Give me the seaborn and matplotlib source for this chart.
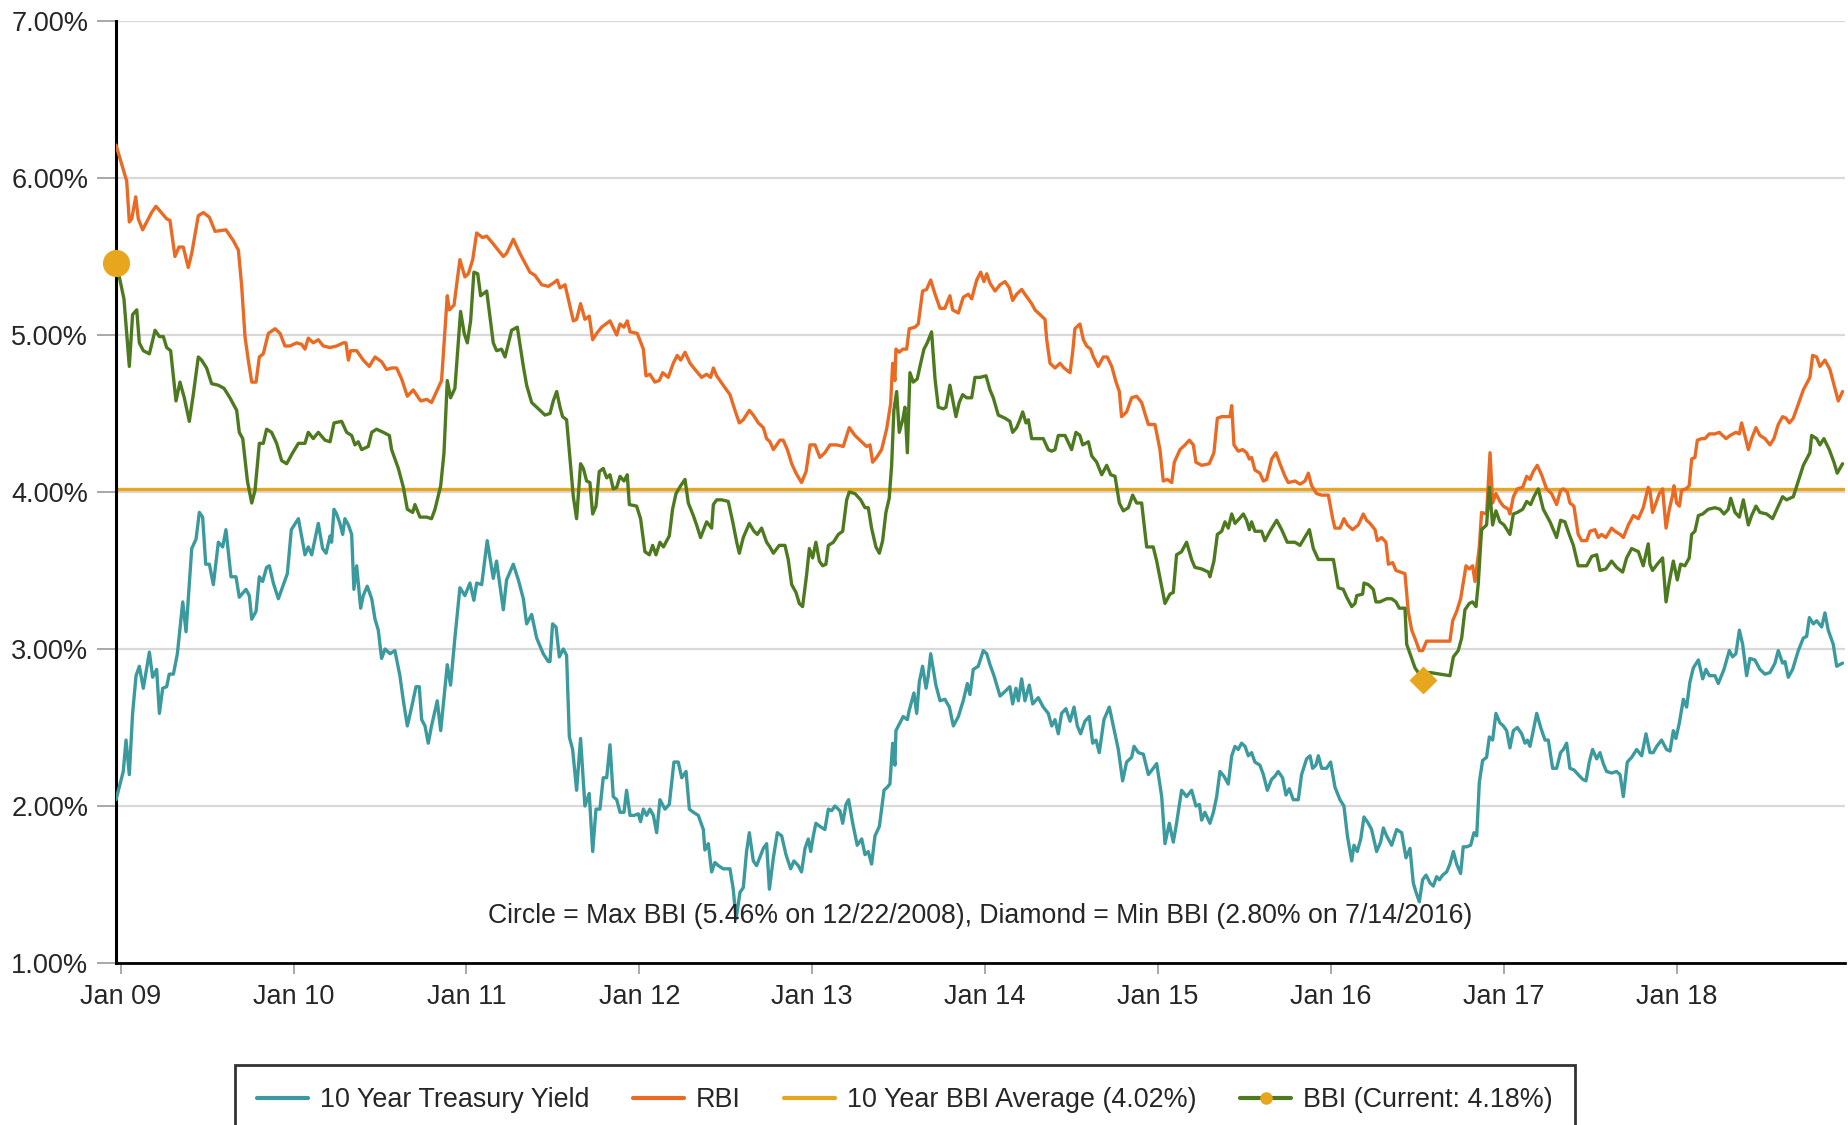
import matplotlib
matplotlib.use("Agg")
import matplotlib.pyplot as plt
from matplotlib.lines import Line2D
import seaborn as sns
import pandas as pd

# weekly readings, (decimal year, percent)
treasury = [
    (2008.973, 2.04), (2009.015, 2.22), (2009.031, 2.42), (2009.050, 2.20), (2009.069, 2.59), (2009.089, 2.83),
    (2009.108, 2.89), (2009.131, 2.75), (2009.166, 2.98), (2009.185, 2.82), (2009.208, 2.87), (2009.224, 2.59),
    (2009.243, 2.75), (2009.266, 2.76), (2009.281, 2.84), (2009.305, 2.84), (2009.328, 2.97), (2009.359, 3.30),
    (2009.378, 3.11), (2009.411, 3.64), (2009.436, 3.70), (2009.455, 3.87), (2009.474, 3.84), (2009.492, 3.54),
    (2009.513, 3.54), (2009.536, 3.41), (2009.565, 3.68), (2009.590, 3.65), (2009.609, 3.76), (2009.638, 3.46),
    (2009.667, 3.46), (2009.686, 3.33), (2009.725, 3.38), (2009.744, 3.34), (2009.758, 3.19), (2009.783, 3.24),
    (2009.802, 3.46), (2009.821, 3.43), (2009.844, 3.52), (2009.860, 3.53), (2009.883, 3.42), (2009.912, 3.32),
    (2009.941, 3.41), (2009.964, 3.48), (2009.987, 3.76), (2010.028, 3.83), (2010.066, 3.60), (2010.085, 3.65),
    (2010.105, 3.60), (2010.143, 3.80), (2010.168, 3.64), (2010.188, 3.61), (2010.211, 3.72), (2010.220, 3.68),
    (2010.234, 3.89), (2010.249, 3.86), (2010.268, 3.80), (2010.284, 3.73), (2010.297, 3.83), (2010.317, 3.79),
    (2010.336, 3.73), (2010.349, 3.38), (2010.365, 3.53), (2010.388, 3.26), (2010.403, 3.34), (2010.426, 3.40),
    (2010.452, 3.32), (2010.471, 3.19), (2010.490, 3.12), (2010.509, 2.94), (2010.529, 3.00), (2010.558, 2.97),
    (2010.586, 2.99), (2010.615, 2.83), (2010.635, 2.67), (2010.658, 2.51), (2010.683, 2.63), (2010.708, 2.76),
    (2010.727, 2.76), (2010.741, 2.55), (2010.760, 2.51), (2010.779, 2.40), (2010.798, 2.51), (2010.831, 2.67),
    (2010.851, 2.48), (2010.889, 2.90), (2010.908, 2.77), (2010.933, 3.07), (2010.962, 3.39), (2010.991, 3.34),
    (2011.020, 3.42), (2011.043, 3.31), (2011.059, 3.42), (2011.088, 3.41), (2011.120, 3.69), (2011.155, 3.45),
    (2011.174, 3.56), (2011.213, 3.25), (2011.232, 3.44), (2011.271, 3.54), (2011.300, 3.44), (2011.329, 3.32),
    (2011.348, 3.16), (2011.377, 3.22), (2011.406, 3.07), (2011.444, 2.97), (2011.473, 2.92), (2011.483, 2.92),
    (2011.498, 3.16), (2011.518, 3.14), (2011.537, 2.95), (2011.560, 3.00), (2011.579, 2.96), (2011.595, 2.44),
    (2011.614, 2.36), (2011.637, 2.10), (2011.660, 2.43), (2011.685, 2.00), (2011.710, 2.08), (2011.730, 1.71),
    (2011.749, 1.98), (2011.772, 1.98), (2011.791, 2.18), (2011.811, 2.18), (2011.830, 2.39), (2011.849, 2.06),
    (2011.869, 2.04), (2011.888, 1.96), (2011.911, 1.96), (2011.926, 2.10), (2011.946, 1.94), (2011.969, 1.94),
    (2011.994, 1.95), (2012.007, 1.90), (2012.023, 1.98), (2012.042, 1.94), (2012.061, 1.98), (2012.081, 1.94),
    (2012.100, 1.83), (2012.119, 2.04), (2012.148, 1.98), (2012.173, 2.01), (2012.200, 2.28), (2012.225, 2.28),
    (2012.245, 2.18), (2012.270, 2.22), (2012.289, 1.98), (2012.312, 1.96), (2012.341, 1.94), (2012.370, 1.85),
    (2012.379, 1.72), (2012.399, 1.76), (2012.418, 1.58), (2012.437, 1.64), (2012.457, 1.62), (2012.485, 1.60),
    (2012.524, 1.60), (2012.543, 1.47), (2012.559, 1.28), (2012.582, 1.45), (2012.601, 1.48), (2012.620, 1.71),
    (2012.636, 1.83), (2012.659, 1.65), (2012.678, 1.62), (2012.717, 1.73), (2012.736, 1.76), (2012.752, 1.47),
    (2012.775, 1.67), (2012.798, 1.83), (2012.823, 1.81), (2012.848, 1.69), (2012.875, 1.60), (2012.894, 1.65),
    (2012.919, 1.62), (2012.938, 1.58), (2012.958, 1.73), (2012.977, 1.79), (2012.991, 1.71), (2013.006, 1.81),
    (2013.021, 1.89), (2013.044, 1.87), (2013.073, 1.85), (2013.093, 1.98), (2013.112, 1.97), (2013.131, 2.00),
    (2013.160, 1.97), (2013.176, 1.89), (2013.195, 2.01), (2013.210, 2.04), (2013.234, 1.89), (2013.260, 1.75),
    (2013.286, 1.79), (2013.305, 1.69), (2013.324, 1.71), (2013.343, 1.63), (2013.363, 1.81), (2013.388, 1.87),
    (2013.415, 2.10), (2013.434, 2.12), (2013.449, 2.14), (2013.465, 2.40), (2013.478, 2.26), (2013.484, 2.48),
    (2013.507, 2.53), (2013.526, 2.57), (2013.550, 2.55), (2013.561, 2.61), (2013.588, 2.72), (2013.604, 2.59),
    (2013.619, 2.79), (2013.638, 2.89), (2013.658, 2.75), (2013.671, 2.83), (2013.685, 2.97), (2013.715, 2.77),
    (2013.739, 2.67), (2013.767, 2.68), (2013.793, 2.63), (2013.816, 2.51), (2013.845, 2.57), (2013.873, 2.67),
    (2013.897, 2.78), (2013.912, 2.71), (2013.931, 2.87), (2013.960, 2.89), (2013.989, 2.99), (2014.009, 2.97),
    (2014.028, 2.90), (2014.051, 2.83), (2014.086, 2.70), (2014.115, 2.73), (2014.143, 2.76), (2014.159, 2.65),
    (2014.178, 2.75), (2014.192, 2.67), (2014.211, 2.81), (2014.230, 2.67), (2014.255, 2.77), (2014.275, 2.65),
    (2014.307, 2.69), (2014.336, 2.63), (2014.365, 2.59), (2014.385, 2.51), (2014.404, 2.55), (2014.423, 2.46),
    (2014.442, 2.59), (2014.467, 2.62), (2014.491, 2.54), (2014.514, 2.63), (2014.533, 2.51), (2014.552, 2.46),
    (2014.577, 2.54), (2014.602, 2.57), (2014.622, 2.40), (2014.641, 2.42), (2014.660, 2.34), (2014.687, 2.55),
    (2014.718, 2.63), (2014.741, 2.51), (2014.770, 2.36), (2014.795, 2.16), (2014.818, 2.28), (2014.847, 2.31),
    (2014.861, 2.38), (2014.886, 2.34), (2014.915, 2.33), (2014.944, 2.20), (2014.972, 2.24), (2014.992, 2.27),
    (2015.021, 2.06), (2015.040, 1.76), (2015.065, 1.89), (2015.088, 1.77), (2015.107, 1.89), (2015.136, 2.10),
    (2015.165, 2.06), (2015.194, 2.10), (2015.219, 2.00), (2015.239, 2.01), (2015.252, 1.91), (2015.271, 1.96),
    (2015.300, 1.89), (2015.320, 1.96), (2015.339, 2.06), (2015.358, 2.22), (2015.381, 2.19), (2015.406, 2.14),
    (2015.426, 2.32), (2015.445, 2.38), (2015.464, 2.36), (2015.483, 2.40), (2015.503, 2.38), (2015.522, 2.32),
    (2015.541, 2.34), (2015.560, 2.28), (2015.589, 2.26), (2015.609, 2.20), (2015.632, 2.10), (2015.657, 2.17),
    (2015.676, 2.19), (2015.695, 2.22), (2015.720, 2.18), (2015.740, 2.07), (2015.759, 2.11), (2015.782, 2.04),
    (2015.811, 2.04), (2015.830, 2.20), (2015.859, 2.30), (2015.879, 2.32), (2015.894, 2.24), (2015.913, 2.26),
    (2015.927, 2.32), (2015.946, 2.24), (2015.975, 2.24), (2015.998, 2.28), (2016.023, 2.12), (2016.052, 2.04),
    (2016.075, 2.00), (2016.095, 1.81), (2016.120, 1.65), (2016.133, 1.75), (2016.152, 1.71), (2016.172, 1.79),
    (2016.191, 1.93), (2016.216, 1.89), (2016.235, 1.85), (2016.264, 1.71), (2016.287, 1.77), (2016.303, 1.86),
    (2016.322, 1.81), (2016.351, 1.75), (2016.380, 1.85), (2016.409, 1.83), (2016.434, 1.67), (2016.457, 1.73),
    (2016.476, 1.51), (2016.492, 1.45), (2016.511, 1.39), (2016.530, 1.53), (2016.550, 1.56), (2016.573, 1.51),
    (2016.592, 1.49), (2016.611, 1.55), (2016.627, 1.53), (2016.646, 1.56), (2016.669, 1.58), (2016.688, 1.63),
    (2016.708, 1.71), (2016.727, 1.63), (2016.750, 1.57), (2016.765, 1.74), (2016.785, 1.74), (2016.808, 1.75),
    (2016.827, 1.83), (2016.843, 1.81), (2016.858, 2.15), (2016.877, 2.29), (2016.900, 2.31), (2016.916, 2.44),
    (2016.935, 2.42), (2016.954, 2.59), (2016.977, 2.53), (2016.997, 2.51), (2017.016, 2.48), (2017.035, 2.37),
    (2017.055, 2.48), (2017.078, 2.50), (2017.103, 2.46), (2017.122, 2.40), (2017.136, 2.42), (2017.151, 2.38),
    (2017.170, 2.48), (2017.190, 2.59), (2017.213, 2.50), (2017.238, 2.42), (2017.257, 2.42), (2017.282, 2.24),
    (2017.305, 2.24), (2017.328, 2.34), (2017.344, 2.36), (2017.363, 2.40), (2017.382, 2.24), (2017.405, 2.23),
    (2017.430, 2.20), (2017.456, 2.17), (2017.475, 2.16), (2017.494, 2.28), (2017.513, 2.36), (2017.537, 2.30),
    (2017.556, 2.34), (2017.575, 2.27), (2017.594, 2.22), (2017.623, 2.21), (2017.652, 2.22), (2017.672, 2.20),
    (2017.691, 2.06), (2017.714, 2.28), (2017.739, 2.31), (2017.768, 2.36), (2017.797, 2.32), (2017.822, 2.46),
    (2017.845, 2.34), (2017.864, 2.34), (2017.884, 2.38), (2017.912, 2.42), (2017.941, 2.36), (2017.961, 2.35),
    (2017.980, 2.48), (2017.995, 2.43), (2018.015, 2.53), (2018.038, 2.68), (2018.057, 2.63), (2018.076, 2.79),
    (2018.096, 2.88), (2018.125, 2.93), (2018.150, 2.81), (2018.169, 2.87), (2018.188, 2.83), (2018.221, 2.83),
    (2018.240, 2.78), (2018.273, 2.87), (2018.304, 2.99), (2018.323, 2.95), (2018.342, 2.97), (2018.362, 3.12),
    (2018.381, 3.03), (2018.404, 2.83), (2018.423, 2.94), (2018.452, 2.93), (2018.481, 2.87), (2018.510, 2.84),
    (2018.539, 2.85), (2018.568, 2.91), (2018.587, 2.99), (2018.612, 2.91), (2018.626, 2.92), (2018.645, 2.82),
    (2018.670, 2.87), (2018.703, 2.99), (2018.732, 3.07), (2018.751, 3.08), (2018.767, 3.20), (2018.790, 3.16),
    (2018.809, 3.18), (2018.838, 3.14), (2018.857, 3.23), (2018.876, 3.12), (2018.905, 3.03), (2018.925, 2.89),
    (2018.959, 2.91),
]

rbi = [
    (2008.973, 6.21), (2009.035, 5.98), (2009.050, 5.72), (2009.064, 5.74), (2009.087, 5.88), (2009.102, 5.74),
    (2009.127, 5.67), (2009.179, 5.78), (2009.204, 5.82), (2009.266, 5.74), (2009.285, 5.73), (2009.314, 5.50),
    (2009.337, 5.56), (2009.362, 5.56), (2009.391, 5.43), (2009.411, 5.52), (2009.449, 5.76), (2009.478, 5.78),
    (2009.513, 5.75), (2009.546, 5.66), (2009.609, 5.67), (2009.652, 5.60), (2009.681, 5.54), (2009.700, 5.31),
    (2009.719, 4.99), (2009.738, 4.84), (2009.758, 4.70), (2009.783, 4.70), (2009.802, 4.86), (2009.825, 4.88),
    (2009.854, 5.01), (2009.893, 5.04), (2009.922, 5.01), (2009.950, 4.93), (2009.979, 4.93), (2010.018, 4.95),
    (2010.047, 4.94), (2010.066, 4.91), (2010.085, 4.98), (2010.114, 4.95), (2010.143, 4.97), (2010.172, 4.93),
    (2010.211, 4.92), (2010.249, 4.93), (2010.288, 4.95), (2010.303, 4.95), (2010.317, 4.84), (2010.330, 4.90),
    (2010.365, 4.90), (2010.403, 4.84), (2010.438, 4.80), (2010.471, 4.86), (2010.509, 4.83), (2010.538, 4.78),
    (2010.567, 4.79), (2010.596, 4.79), (2010.625, 4.72), (2010.658, 4.61), (2010.692, 4.65), (2010.735, 4.58),
    (2010.770, 4.59), (2010.798, 4.57), (2010.827, 4.64), (2010.856, 4.71), (2010.889, 5.25), (2010.901, 5.16),
    (2010.928, 5.19), (2010.962, 5.48), (2010.991, 5.37), (2011.011, 5.39), (2011.036, 5.48), (2011.059, 5.65),
    (2011.093, 5.62), (2011.117, 5.63), (2011.155, 5.58), (2011.213, 5.50), (2011.232, 5.52), (2011.271, 5.61),
    (2011.309, 5.52), (2011.367, 5.40), (2011.396, 5.38), (2011.435, 5.32), (2011.473, 5.31), (2011.502, 5.33),
    (2011.525, 5.35), (2011.541, 5.30), (2011.570, 5.32), (2011.589, 5.23), (2011.618, 5.09), (2011.637, 5.10),
    (2011.660, 5.20), (2011.685, 5.10), (2011.710, 5.12), (2011.730, 4.97), (2011.753, 5.01), (2011.782, 5.05),
    (2011.830, 5.09), (2011.869, 5.00), (2011.888, 5.07), (2011.911, 5.05), (2011.930, 5.09), (2011.946, 5.02),
    (2011.988, 5.01), (2012.023, 4.91), (2012.038, 4.74), (2012.061, 4.75), (2012.090, 4.70), (2012.115, 4.71),
    (2012.135, 4.76), (2012.167, 4.73), (2012.196, 4.82), (2012.219, 4.87), (2012.239, 4.84), (2012.264, 4.89),
    (2012.293, 4.82), (2012.322, 4.78), (2012.360, 4.73), (2012.389, 4.75), (2012.412, 4.73), (2012.428, 4.79),
    (2012.447, 4.74), (2012.485, 4.68), (2012.524, 4.62), (2012.553, 4.52), (2012.578, 4.44), (2012.601, 4.46),
    (2012.636, 4.52), (2012.659, 4.49), (2012.688, 4.44), (2012.717, 4.41), (2012.736, 4.34), (2012.755, 4.32),
    (2012.775, 4.27), (2012.794, 4.30), (2012.813, 4.33), (2012.832, 4.33), (2012.856, 4.27), (2012.881, 4.18),
    (2012.906, 4.12), (2012.938, 4.06), (2012.964, 4.13), (2012.987, 4.30), (2013.016, 4.30), (2013.044, 4.22),
    (2013.073, 4.25), (2013.102, 4.30), (2013.141, 4.30), (2013.179, 4.29), (2013.214, 4.41), (2013.247, 4.36),
    (2013.276, 4.33), (2013.314, 4.29), (2013.334, 4.30), (2013.349, 4.19), (2013.372, 4.22), (2013.401, 4.27),
    (2013.430, 4.40), (2013.453, 4.56), (2013.465, 4.82), (2013.478, 4.71), (2013.484, 4.91), (2013.503, 4.89),
    (2013.523, 4.91), (2013.546, 4.91), (2013.561, 5.04), (2013.594, 5.05), (2013.613, 5.07), (2013.638, 5.28),
    (2013.661, 5.29), (2013.685, 5.35), (2013.710, 5.26), (2013.739, 5.17), (2013.767, 5.17), (2013.796, 5.25),
    (2013.812, 5.16), (2013.845, 5.14), (2013.873, 5.24), (2013.902, 5.26), (2013.922, 5.23), (2013.951, 5.35),
    (2013.974, 5.40), (2013.993, 5.34), (2014.009, 5.39), (2014.028, 5.33), (2014.057, 5.28), (2014.086, 5.32),
    (2014.115, 5.34), (2014.140, 5.30), (2014.159, 5.22), (2014.182, 5.26), (2014.211, 5.29), (2014.236, 5.25),
    (2014.269, 5.20), (2014.288, 5.16), (2014.317, 5.13), (2014.346, 5.10), (2014.356, 4.97), (2014.375, 4.82),
    (2014.404, 4.79), (2014.433, 4.82), (2014.456, 4.79), (2014.491, 4.76), (2014.506, 4.89), (2014.519, 5.04),
    (2014.548, 5.07), (2014.568, 4.97), (2014.587, 4.93), (2014.610, 4.91), (2014.626, 4.86), (2014.654, 4.80),
    (2014.683, 4.86), (2014.706, 4.86), (2014.732, 4.80), (2014.757, 4.70), (2014.776, 4.64), (2014.789, 4.48),
    (2014.818, 4.51), (2014.847, 4.60), (2014.876, 4.61), (2014.905, 4.57), (2014.924, 4.50), (2014.944, 4.43),
    (2014.982, 4.43), (2015.011, 4.27), (2015.030, 4.07), (2015.054, 4.08), (2015.079, 4.06), (2015.094, 4.19),
    (2015.127, 4.27), (2015.156, 4.30), (2015.181, 4.33), (2015.204, 4.30), (2015.219, 4.19), (2015.252, 4.17),
    (2015.296, 4.18), (2015.323, 4.25), (2015.343, 4.47), (2015.368, 4.48), (2015.397, 4.48), (2015.416, 4.48),
    (2015.426, 4.55), (2015.439, 4.30), (2015.464, 4.26), (2015.489, 4.27), (2015.512, 4.25), (2015.528, 4.21),
    (2015.541, 4.22), (2015.560, 4.14), (2015.589, 4.12), (2015.609, 4.07), (2015.628, 4.08), (2015.657, 4.21),
    (2015.682, 4.25), (2015.705, 4.18), (2015.734, 4.10), (2015.753, 4.06), (2015.792, 4.07), (2015.821, 4.05),
    (2015.850, 4.07), (2015.869, 4.12), (2015.888, 4.04), (2015.917, 3.99), (2015.946, 3.98), (2015.985, 3.98),
    (2016.010, 3.83), (2016.023, 3.77), (2016.052, 3.77), (2016.075, 3.83), (2016.095, 3.79), (2016.125, 3.76),
    (2016.158, 3.79), (2016.187, 3.86), (2016.206, 3.82), (2016.226, 3.80), (2016.255, 3.76), (2016.268, 3.69),
    (2016.293, 3.71), (2016.318, 3.68), (2016.332, 3.54), (2016.357, 3.55), (2016.376, 3.50), (2016.403, 3.49),
    (2016.428, 3.48), (2016.447, 3.24), (2016.467, 3.12), (2016.492, 3.05), (2016.511, 2.99), (2016.530, 2.99),
    (2016.553, 3.05), (2016.573, 3.05), (2016.688, 3.05), (2016.704, 3.18), (2016.727, 3.24), (2016.750, 3.32),
    (2016.765, 3.42), (2016.781, 3.53), (2016.800, 3.51), (2016.819, 3.53), (2016.833, 3.43), (2016.858, 3.65),
    (2016.871, 3.87), (2016.900, 3.86), (2016.920, 4.25), (2016.935, 3.93), (2016.954, 3.99), (2016.977, 3.94),
    (2016.997, 3.91), (2017.026, 3.89), (2017.035, 3.86), (2017.055, 3.97), (2017.078, 4.02), (2017.109, 4.03),
    (2017.132, 4.10), (2017.151, 4.08), (2017.170, 4.13), (2017.193, 4.17), (2017.218, 4.11), (2017.247, 4.02),
    (2017.276, 3.99), (2017.305, 3.92), (2017.328, 4.01), (2017.344, 4.02), (2017.367, 4.00), (2017.382, 3.93),
    (2017.405, 3.91), (2017.430, 3.73), (2017.450, 3.69), (2017.479, 3.69), (2017.498, 3.75), (2017.527, 3.76),
    (2017.546, 3.71), (2017.565, 3.73), (2017.590, 3.71), (2017.623, 3.77), (2017.643, 3.75), (2017.672, 3.73),
    (2017.691, 3.71), (2017.720, 3.79), (2017.749, 3.85), (2017.778, 3.83), (2017.806, 3.90), (2017.835, 4.03),
    (2017.845, 4.01), (2017.860, 3.87), (2017.880, 3.93), (2017.899, 3.99), (2017.918, 4.02), (2017.938, 3.77),
    (2017.957, 3.89), (2017.976, 3.98), (2017.984, 4.04), (2017.999, 3.93), (2018.015, 3.91), (2018.028, 4.01),
    (2018.053, 4.02), (2018.072, 4.04), (2018.086, 4.21), (2018.105, 4.22), (2018.119, 4.33), (2018.144, 4.34),
    (2018.163, 4.34), (2018.188, 4.37), (2018.221, 4.37), (2018.246, 4.38), (2018.265, 4.36), (2018.285, 4.34),
    (2018.308, 4.36), (2018.342, 4.38), (2018.362, 4.37), (2018.375, 4.44), (2018.394, 4.36), (2018.414, 4.27),
    (2018.433, 4.34), (2018.458, 4.41), (2018.481, 4.36), (2018.510, 4.34), (2018.539, 4.30), (2018.562, 4.34),
    (2018.587, 4.43), (2018.612, 4.48), (2018.632, 4.47), (2018.651, 4.44), (2018.674, 4.47), (2018.703, 4.56),
    (2018.732, 4.65), (2018.770, 4.73), (2018.786, 4.87), (2018.809, 4.86), (2018.828, 4.80), (2018.857, 4.84),
    (2018.886, 4.78), (2018.915, 4.66), (2018.934, 4.58), (2018.959, 4.64),
]

bbi = [
    (2008.973, 5.46), (2008.996, 5.35), (2009.019, 5.23), (2009.050, 4.80), (2009.069, 5.13), (2009.093, 5.16),
    (2009.108, 4.95), (2009.131, 4.90), (2009.166, 4.88), (2009.199, 5.03), (2009.224, 4.99), (2009.247, 4.99),
    (2009.266, 4.92), (2009.289, 4.90), (2009.320, 4.58), (2009.343, 4.70), (2009.368, 4.60), (2009.397, 4.45),
    (2009.420, 4.62), (2009.449, 4.86), (2009.468, 4.84), (2009.497, 4.79), (2009.526, 4.69), (2009.565, 4.68),
    (2009.598, 4.66), (2009.632, 4.60), (2009.671, 4.52), (2009.686, 4.38), (2009.706, 4.34), (2009.733, 4.07),
    (2009.758, 3.93), (2009.777, 4.01), (2009.802, 4.31), (2009.825, 4.31), (2009.844, 4.40), (2009.873, 4.38),
    (2009.902, 4.31), (2009.931, 4.20), (2009.960, 4.18), (2009.995, 4.25), (2010.028, 4.31), (2010.066, 4.31),
    (2010.085, 4.38), (2010.114, 4.34), (2010.143, 4.38), (2010.182, 4.33), (2010.211, 4.32), (2010.234, 4.44),
    (2010.278, 4.45), (2010.307, 4.38), (2010.336, 4.36), (2010.355, 4.30), (2010.374, 4.32), (2010.394, 4.27),
    (2010.432, 4.29), (2010.452, 4.38), (2010.480, 4.40), (2010.519, 4.38), (2010.554, 4.36), (2010.567, 4.27),
    (2010.606, 4.15), (2010.635, 4.03), (2010.658, 3.89), (2010.689, 3.87), (2010.702, 3.92), (2010.731, 3.84),
    (2010.770, 3.84), (2010.798, 3.83), (2010.818, 3.89), (2010.851, 4.04), (2010.870, 4.25), (2010.889, 4.71),
    (2010.908, 4.60), (2010.933, 4.66), (2010.966, 5.15), (2010.987, 5.01), (2011.005, 4.95), (2011.024, 5.09),
    (2011.043, 5.40), (2011.065, 5.39), (2011.082, 5.25), (2011.117, 5.28), (2011.155, 4.95), (2011.174, 4.90),
    (2011.203, 4.91), (2011.223, 4.86), (2011.261, 5.03), (2011.294, 5.05), (2011.329, 4.80), (2011.348, 4.68),
    (2011.377, 4.57), (2011.416, 4.53), (2011.454, 4.49), (2011.483, 4.50), (2011.502, 4.58), (2011.522, 4.64),
    (2011.541, 4.54), (2011.556, 4.48), (2011.579, 4.46), (2011.599, 4.21), (2011.618, 3.97), (2011.637, 3.83),
    (2011.660, 4.18), (2011.676, 4.15), (2011.695, 4.07), (2011.714, 4.06), (2011.730, 3.86), (2011.749, 3.91),
    (2011.768, 4.13), (2011.791, 4.15), (2011.811, 4.09), (2011.830, 4.11), (2011.849, 4.02), (2011.869, 4.03),
    (2011.888, 4.10), (2011.911, 4.07), (2011.930, 4.11), (2011.942, 3.92), (2011.984, 3.91), (2012.007, 3.83),
    (2012.032, 3.62), (2012.058, 3.60), (2012.077, 3.66), (2012.096, 3.60), (2012.119, 3.68), (2012.139, 3.65),
    (2012.173, 3.72), (2012.192, 3.89), (2012.212, 3.99), (2012.239, 4.04), (2012.264, 4.08), (2012.283, 3.93),
    (2012.312, 3.85), (2012.331, 3.79), (2012.354, 3.71), (2012.389, 3.81), (2012.418, 3.77), (2012.428, 3.92),
    (2012.447, 3.95), (2012.476, 3.95), (2012.514, 3.94), (2012.540, 3.81), (2012.563, 3.68), (2012.578, 3.61),
    (2012.601, 3.71), (2012.636, 3.80), (2012.663, 3.75), (2012.682, 3.73), (2012.707, 3.77), (2012.736, 3.68),
    (2012.755, 3.65), (2012.775, 3.61), (2012.809, 3.66), (2012.842, 3.66), (2012.861, 3.57), (2012.881, 3.41),
    (2012.906, 3.36), (2012.925, 3.29), (2012.944, 3.27), (2012.967, 3.47), (2012.983, 3.64), (2013.002, 3.58),
    (2013.021, 3.68), (2013.041, 3.56), (2013.060, 3.53), (2013.079, 3.54), (2013.093, 3.66), (2013.122, 3.68),
    (2013.151, 3.73), (2013.176, 3.75), (2013.199, 3.95), (2013.214, 4.00), (2013.247, 3.99), (2013.280, 3.95),
    (2013.305, 3.90), (2013.324, 3.90), (2013.343, 3.77), (2013.368, 3.65), (2013.388, 3.61), (2013.407, 3.69),
    (2013.426, 3.87), (2013.445, 3.96), (2013.459, 4.17), (2013.472, 4.52), (2013.488, 4.64), (2013.503, 4.38),
    (2013.523, 4.46), (2013.536, 4.54), (2013.550, 4.25), (2013.565, 4.76), (2013.584, 4.70), (2013.607, 4.72),
    (2013.627, 4.82), (2013.646, 4.91), (2013.665, 4.95), (2013.690, 5.02), (2013.710, 4.72), (2013.729, 4.54),
    (2013.758, 4.53), (2013.773, 4.54), (2013.796, 4.68), (2013.812, 4.59), (2013.831, 4.48), (2013.850, 4.57),
    (2013.870, 4.62), (2013.893, 4.60), (2013.922, 4.60), (2013.941, 4.73), (2013.970, 4.73), (2014.005, 4.74),
    (2014.028, 4.65), (2014.047, 4.60), (2014.076, 4.49), (2014.115, 4.47), (2014.143, 4.45), (2014.159, 4.38),
    (2014.182, 4.41), (2014.201, 4.46), (2014.217, 4.51), (2014.236, 4.44), (2014.250, 4.46), (2014.269, 4.34),
    (2014.298, 4.34), (2014.336, 4.34), (2014.365, 4.27), (2014.385, 4.26), (2014.404, 4.27), (2014.423, 4.36),
    (2014.462, 4.36), (2014.500, 4.27), (2014.525, 4.38), (2014.548, 4.36), (2014.564, 4.30), (2014.597, 4.32),
    (2014.616, 4.23), (2014.645, 4.19), (2014.674, 4.11), (2014.703, 4.17), (2014.726, 4.11), (2014.751, 4.10),
    (2014.776, 3.93), (2014.799, 3.88), (2014.828, 3.90), (2014.853, 3.98), (2014.876, 3.93), (2014.905, 3.93),
    (2014.934, 3.65), (2014.972, 3.65), (2014.992, 3.56), (2015.015, 3.43), (2015.040, 3.29), (2015.069, 3.35),
    (2015.088, 3.36), (2015.107, 3.60), (2015.136, 3.62), (2015.165, 3.68), (2015.194, 3.57), (2015.213, 3.52),
    (2015.252, 3.51), (2015.291, 3.49), (2015.300, 3.46), (2015.323, 3.56), (2015.343, 3.73), (2015.368, 3.75),
    (2015.387, 3.81), (2015.406, 3.77), (2015.426, 3.86), (2015.445, 3.80), (2015.470, 3.83), (2015.493, 3.86),
    (2015.512, 3.82), (2015.528, 3.76), (2015.541, 3.81), (2015.560, 3.75), (2015.599, 3.75), (2015.618, 3.69),
    (2015.647, 3.75), (2015.686, 3.82), (2015.715, 3.76), (2015.747, 3.68), (2015.792, 3.68), (2015.821, 3.66),
    (2015.859, 3.73), (2015.875, 3.76), (2015.898, 3.64), (2015.927, 3.57), (2015.965, 3.57), (2016.014, 3.57),
    (2016.042, 3.39), (2016.071, 3.38), (2016.091, 3.33), (2016.120, 3.27), (2016.139, 3.29), (2016.149, 3.34),
    (2016.183, 3.35), (2016.191, 3.42), (2016.216, 3.41), (2016.245, 3.38), (2016.260, 3.30), (2016.283, 3.30),
    (2016.303, 3.31), (2016.322, 3.32), (2016.351, 3.32), (2016.376, 3.30), (2016.395, 3.26), (2016.428, 3.26),
    (2016.438, 3.03), (2016.457, 2.97), (2016.486, 2.88), (2016.511, 2.84), (2016.534, 2.80), (2016.563, 2.85),
    (2016.573, 2.85), (2016.688, 2.83), (2016.708, 2.95), (2016.736, 2.99), (2016.756, 3.07), (2016.775, 3.25),
    (2016.800, 3.29), (2016.819, 3.30), (2016.839, 3.27), (2016.852, 3.42), (2016.871, 3.76), (2016.900, 3.79),
    (2016.916, 4.03), (2016.935, 3.79), (2016.954, 3.88), (2016.977, 3.81), (2017.001, 3.79), (2017.035, 3.73),
    (2017.055, 3.86), (2017.078, 3.87), (2017.109, 3.89), (2017.132, 3.94), (2017.155, 3.92), (2017.174, 3.97),
    (2017.199, 4.02), (2017.228, 3.89), (2017.267, 3.81), (2017.305, 3.71), (2017.328, 3.82), (2017.353, 3.81),
    (2017.378, 3.73), (2017.402, 3.66), (2017.430, 3.53), (2017.479, 3.53), (2017.508, 3.59), (2017.537, 3.60),
    (2017.556, 3.50), (2017.590, 3.51), (2017.623, 3.56), (2017.652, 3.52), (2017.687, 3.49), (2017.710, 3.58),
    (2017.739, 3.64), (2017.778, 3.62), (2017.806, 3.53), (2017.835, 3.67), (2017.845, 3.54), (2017.860, 3.50),
    (2017.887, 3.54), (2017.918, 3.58), (2017.938, 3.30), (2017.957, 3.43), (2017.980, 3.56), (2018.003, 3.44),
    (2018.022, 3.54), (2018.047, 3.53), (2018.072, 3.58), (2018.086, 3.73), (2018.105, 3.75), (2018.125, 3.85),
    (2018.150, 3.86), (2018.182, 3.89), (2018.221, 3.90), (2018.250, 3.89), (2018.273, 3.86), (2018.298, 3.89),
    (2018.312, 3.96), (2018.337, 3.87), (2018.362, 3.84), (2018.385, 3.95), (2018.414, 3.79), (2018.433, 3.85),
    (2018.458, 3.91), (2018.481, 3.87), (2018.520, 3.86), (2018.554, 3.83), (2018.587, 3.91), (2018.612, 3.97),
    (2018.635, 3.95), (2018.674, 3.97), (2018.703, 4.07), (2018.732, 4.17), (2018.770, 4.25), (2018.780, 4.36),
    (2018.809, 4.34), (2018.828, 4.30), (2018.851, 4.34), (2018.882, 4.27), (2018.909, 4.19), (2018.928, 4.12),
    (2018.959, 4.18),
]

bbi_avg = 4.02
bbi_max = (2008.973, 5.46)   # 12/22/2008
bbi_min = (2016.534, 2.80)   # 7/14/2016
years = list(range(2009, 2019))
tick_labels = ["Jan %02d" % (y % 100) for y in years]

c_tsy = "#3A9A9E"
c_rbi = "#EA6A24"
c_avg = "#E8A51E"
c_bbi = "#4D7A1F"


def to_df(pairs, name):
    t, v = zip(*pairs)
    return pd.DataFrame({"year": t, "value": v, "series": name})


sns.set_style("white")
plt.rcParams["font.family"] = ["Liberation Sans", "DejaVu Sans"]

fig = plt.figure(figsize=(18.48, 11.25), dpi=100)
ax = fig.add_axes([116 / 1848, 1 - 963 / 1125, (1845 - 116) / 1848, (963 - 21) / 1125])

ax.axhline(bbi_avg, color=c_avg, lw=2.4, zorder=2)
for pairs, name, col in [(treasury, "10 Year Treasury Yield", c_tsy), (rbi, "RBI", c_rbi), (bbi, "BBI", c_bbi)]:
    sns.lineplot(data=to_df(pairs, name), x="year", y="value", ax=ax, color=col,
                 lw=2.4, estimator=None, sort=False, legend=False, zorder=3)

ax.plot(*bbi_max, "o", ms=18.5, color=c_avg, clip_on=False, zorder=6)
ax.plot(*bbi_min, "D", ms=13.5, color=c_avg, clip_on=False, zorder=6)

ax.set_xlim(2008.973, 2018.973)
ax.set_ylim(1, 7)
ax.set_yticks(range(1, 8))
ax.set_yticklabels(["%.2f%%" % v for v in range(1, 8)])
ax.set_xticks(years)
ax.set_xticklabels(tick_labels)
ax.set_xlabel("")
ax.set_ylabel("")
ax.yaxis.grid(True, color="#d9d9d9", lw=1.6)
ax.xaxis.grid(False)
ax.set_axisbelow(True)
for s in ["top", "right"]:
    ax.spines[s].set_visible(False)
ax.spines["left"].set_color("black")
ax.spines["left"].set_linewidth(2.2)
ax.spines["bottom"].set_color("black")
ax.spines["bottom"].set_linewidth(2.0)
ax.tick_params(axis="y", length=14, width=1.2, color="#999999", pad=6, labelsize=19.5, left=True)
ax.tick_params(axis="x", length=8, width=1.2, color="#999999", pad=7, labelsize=19.5, bottom=True)

ax.text(0.5, 0.05, "Circle = Max BBI (5.46% on 12/22/2008), Diamond = Min BBI (2.80% on 7/14/2016)",
        transform=ax.transAxes, ha="center", va="center", fontsize=19.2)

handles = [
    Line2D([], [], color=c_tsy, lw=3),
    Line2D([], [], color=c_rbi, lw=3),
    Line2D([], [], color=c_avg, lw=3),
    Line2D([], [], color=c_bbi, lw=3, marker="o", ms=8, mfc=c_avg, mec=c_avg),
]
labels = ["10 Year Treasury Yield", "RBI", "10 Year BBI Average (4.02%)", "BBI (Current: 4.18%)"]
leg = fig.legend(handles, labels, loc="center", bbox_to_anchor=(905 / 1848, 1 - 1100 / 1125), ncol=4,
                 fontsize=19.4, frameon=True, fancybox=False, edgecolor="black", handlelength=1.9,
                 handletextpad=0.45, columnspacing=1.6, borderpad=0.8)
leg.get_frame().set_linewidth(2)

fig.savefig("out.png", dpi=100)
